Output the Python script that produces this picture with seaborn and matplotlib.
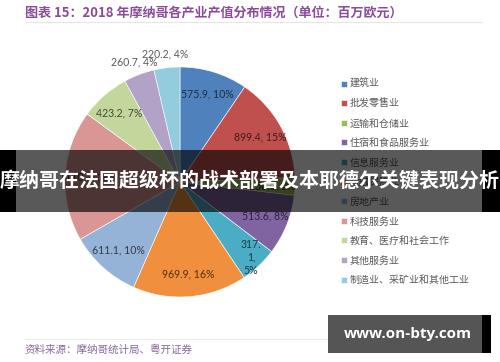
import numpy as np
import seaborn as sns
from matplotlib import pyplot as plt
from matplotlib.patches import Rectangle

# data (million EUR, 2018)
sectors = ["建筑业", "批发零售业", "运输和仓储业", "住宿和食品服务业", "信息服务业",
           "金融保险业", "房地产业", "科技服务业", "教育、医疗和社会工作",
           "其他服务业", "制造业、采矿业和其他工业"]
values = [575.9, 899.4, 150.0, 513.6, 317.1, 969.9, 611.1, 1110.2, 423.2, 260.7, 220.2]
colors = ["#4F81BD", "#C0504D", "#9BBB59", "#8064A2", "#4BACC6", "#F0903F",
          "#95B3D7", "#D99694", "#C3D69B", "#B3A2C7", "#93CDDD"]
# labels drawn outside the pie (small slices at the top)
outside = ["其他服务业", "制造业、采矿业和其他工业"]

title = "图表 15：2018 年摩纳哥各产业产值分布情况（单位：百万欧元）"
source = "资料来源：摩纳哥统计局、粤开证券"
banner = "摩纳哥在法国超级杯的战术部署及本耶德尔关键表现分析"
site = "www.on-bty.com"


def main():
    sns.set_theme(style="white")
    plt.rcParams['font.family'] = ['Noto Sans CJK SC', 'DejaVu Sans']
    palette = sns.color_palette(colors)

    W, H = 500, 362
    fig = plt.figure(figsize=(W / 100, H / 100), dpi=100)
    fig.patch.set_facecolor("white")

    # pie: centre (180,182), radius 115 px
    cx, cy, r = 180, 182, 115
    ax = fig.add_axes([(cx - r) / W, (H - cy - r) / H, 2 * r / W, 2 * r / H])
    wedges, _ = ax.pie(values, colors=palette, startangle=90, counterclock=False,
                       radius=1.0, wedgeprops=dict(linewidth=0.4, edgecolor="white"))
    ax.set_xlim(-1, 1)
    ax.set_ylim(-1, 1)
    ax.set_aspect("equal")
    ax.axis("off")

    total = sum(values)
    for w, name, val, col in zip(wedges, sectors, values, palette):
        pct = int(round(val / total * 100))
        mid = np.deg2rad((w.theta1 + w.theta2) / 2)
        txt = f"{val}, {pct}%"
        if name in outside:
            rr = 1.12
            tc = "#595959"
        else:
            rr = 0.8
            tc = tuple(c * 0.35 for c in col)
        if name == "信息服务业":
            txt = f"{str(val)[:4]}\n{str(val)[4:]},\n{pct}%"
            rr = 0.9
        ax.text(rr * np.cos(mid), rr * np.sin(mid), txt, ha="center", va="center",
                fontsize=7.6, color=tc, family=["Lato", "DejaVu Sans"], clip_on=False,
                linespacing=1.25)

    leg = fig.legend(wedges, sectors, loc="upper left", bbox_to_anchor=(341 / W, 1 - 79 / H),
                     frameon=False, fontsize=7.2, handlelength=0.55, handleheight=0.55,
                     handletextpad=0.35, labelspacing=0.96, borderpad=0, borderaxespad=0)
    for t in leg.get_texts():
        t.set_color("#595959")

    # title + rules
    fig.text(25 / W, 1 - 13 / H, title, fontsize=9.4, fontweight="bold", color="#8B4A9C",
             ha="left", va="center")
    fig.add_artist(plt.Line2D([25 / W, 482 / W], [1 - 22 / H, 1 - 22 / H], color="#e6e6e6", lw=0.8))
    fig.add_artist(plt.Line2D([25 / W, 440 / W], [1 - 339 / H, 1 - 339 / H], color="#ececec", lw=0.8))
    fig.text(25 / W, 1 - 350 / H, source, fontsize=7.6, style="italic", color="#8a6a9a",
             ha="left", va="center")

    # overlay banner
    y0, y1 = 150, 212
    fig.add_artist(Rectangle((16 / W, 1 - y1 / H), 466 / W, (y1 - y0) / H, transform=fig.transFigure,
                             facecolor="black", alpha=0.65, edgecolor="none", zorder=10))
    fig.add_artist(Rectangle((0, 1 - y1 / H), 16 / W, (y1 - y0) / H, transform=fig.transFigure,
                             facecolor="black", edgecolor="none", zorder=10))
    fig.add_artist(Rectangle((482 / W, 1 - y1 / H), 18 / W, (y1 - y0) / H, transform=fig.transFigure,
                             facecolor="black", edgecolor="none", zorder=10))
    fig.text(0.5, 1 - 181 / H, banner, fontsize=14.4, fontweight="bold", color="white",
             ha="center", va="center", zorder=11)

    # site box
    fig.add_artist(Rectangle((328 / W, 1 - 353 / H), 154 / W, 38 / H, transform=fig.transFigure,
                             facecolor="#555555", edgecolor="none", zorder=10))
    fig.add_artist(Rectangle((482 / W, 1 - 353 / H), 9 / W, 38 / H, transform=fig.transFigure,
                             facecolor="black", edgecolor="none", zorder=10))
    fig.text(408 / W, 1 - 334 / H, site, fontsize=11, fontweight="bold", color="white",
             family=["Open Sans", "DejaVu Sans"], ha="center", va="center", zorder=11)

    fig.savefig("out.png", dpi=100)
    plt.close(fig)


if __name__ == '__main__':
    main()
